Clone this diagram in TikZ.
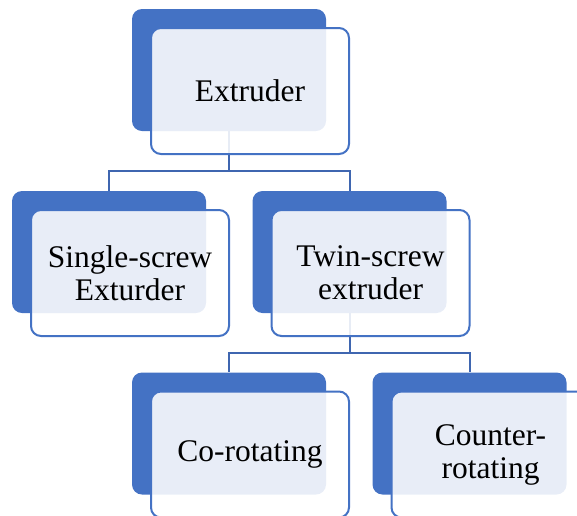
\documentclass[tikz,border=0pt]{standalone}
\usepackage{fontspec}
\setmainfont{Liberation Serif}
\usepackage{tikz}
\usetikzlibrary{positioning}
\definecolor{boxblue}{HTML}{4472C4}
\definecolor{linkblue}{HTML}{3F66B0}

\begin{document}
\begin{tikzpicture}[x=1pt,y=-1pt]
        \tikzstyle{backbox} = [rectangle, rounded corners=10pt, minimum width=194pt, minimum height=122pt, fill=boxblue, inner sep=0pt]
        \tikzstyle{frontbox} = [rectangle, rounded corners=10pt, minimum width=198pt, minimum height=126pt, draw=boxblue, line width=2pt, fill=white, fill opacity=0.88, text opacity=1, align=center, font=\fontsize{31.5}{33}\selectfont]
        \tikzstyle{link} = [draw=linkblue, line width=2pt]
        \useasboundingbox (0,0) rectangle (577,515);
        \clip (0,0) rectangle (577,515);

        % back boxes
        \node (ext-b) [backbox] at (229,70) {};
        \node (single-b) [backbox] at (109,252) {};
        \node (twin-b) [backbox] at (349.5,252) {};
        \node (co-b) [backbox] at (229,433.5) {};
        \node (counter-b) [backbox] at (469.5,433.5) {};

        % connectors
        \coordinate (j1) at (229,171);
        \coordinate (j2) at (349.5,353);
        \draw [link] (ext-b.south) -- (j1);
        \draw [link] (j1) -| (single-b.north);
        \draw [link] (j1) -| (twin-b.north);
        \draw [link] (twin-b.south) -- (j2);
        \draw [link] (j2) -| (co-b.north);
        \draw [link] (j2) -| (counter-b.north);

        % front boxes
        \node (ext) [frontbox] at ([shift={(21,21)}]ext-b.center) {Extruder};
        \node (single) [frontbox] at ([shift={(21,21)}]single-b.center) {Single-screw\\Exturder};
        \node (twin) [frontbox] at ([shift={(21,21)}]twin-b.center) {Twin-screw\\extruder};
        \node (co) [frontbox] at ([shift={(21,21)}]co-b.center) {Co-rotating};
        \node (counter) [frontbox] at ([shift={(21,21)}]counter-b.center) {Counter-\\rotating};
    \end{tikzpicture}
\end{document}
